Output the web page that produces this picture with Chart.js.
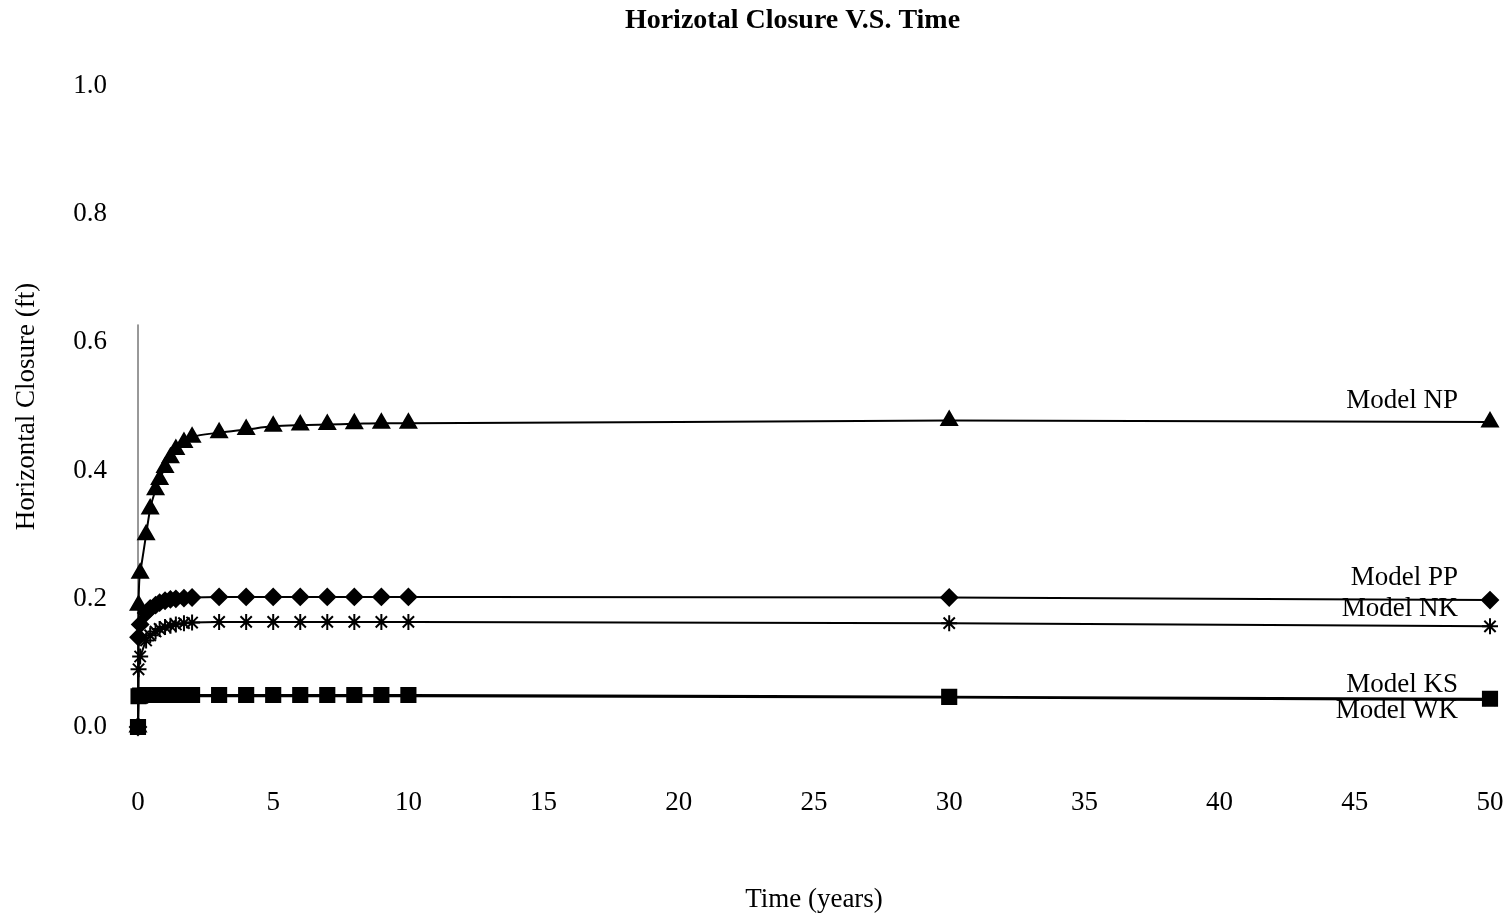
<!DOCTYPE html>
<html>
<head>
<meta charset="utf-8">
<script src="https://cdn.jsdelivr.net/npm/chart.js@4"></script>
<style>
  html, body { margin: 0; padding: 0; background: #fff; }
  #wrap { width: 1509px; height: 920px; }
</style>
</head>
<body>
<div id="wrap"><canvas id="c" width="1509" height="920"></canvas></div>
<script>
// ---- data ----
const times = [0, 0.02, 0.08, 0.3, 0.45, 0.65, 0.8, 1.0, 1.2, 1.4, 1.7, 2, 3, 4, 5, 6, 7, 8, 9, 10, 30, 50];
const modelNP = [0, 0.19, 0.24, 0.30, 0.34, 0.37, 0.386, 0.405, 0.42, 0.433, 0.444, 0.452, 0.459, 0.464, 0.469, 0.471, 0.472, 0.473, 0.474, 0.474, 0.478, 0.476];
const modelPP = [0, 0.14, 0.16, 0.178, 0.185, 0.19, 0.194, 0.197, 0.199, 0.200, 0.201, 0.202, 0.203, 0.203, 0.203, 0.203, 0.203, 0.203, 0.203, 0.203, 0.202, 0.198];
const modelNK = [0, 0.09, 0.11, 0.135, 0.143, 0.149, 0.153, 0.156, 0.158, 0.160, 0.162, 0.163, 0.164, 0.164, 0.164, 0.164, 0.164, 0.164, 0.164, 0.164, 0.162, 0.157];
const modelKS = [0, 0.048, 0.049, 0.050, 0.050, 0.050, 0.050, 0.050, 0.050, 0.050, 0.050, 0.050, 0.050, 0.050, 0.050, 0.050, 0.050, 0.050, 0.050, 0.050, 0.047, 0.044];
const modelWK = [0, 0.046, 0.047, 0.048, 0.048, 0.048, 0.048, 0.048, 0.048, 0.048, 0.048, 0.048, 0.048, 0.048, 0.048, 0.048, 0.048, 0.048, 0.048, 0.048, 0.046, 0.042];
const seriesNames = ['Model NP', 'Model PP', 'Model NK', 'Model KS', 'Model WK'];
const axisLineX = [0, 0];
const axisLineY = [0, 0.628];
const xTicks = [0, 5, 10, 15, 20, 25, 30, 35, 40, 45, 50];
const yTicks = [0.0, 0.2, 0.4, 0.6, 0.8, 1.0];
const chartTitle = 'Horizotal Closure V.S. Time';

// ---- styling ----
const SERIF = '"Liberation Serif", "Times New Roman", serif';
const FS = 27;
const labelOffsetsPx = [-21, -22, -17, -14, 11];
const markerStyles = [
  { pointStyle: 'triangle', radius: 9 },
  { pointStyle: 'rectRot', radius: 8 },
  { pointStyle: 'star', radius: 8 },
  { pointStyle: 'rect', radius: 10 },
  { pointStyle: 'crossRot', radius: 8 }
];
const allSeries = [modelNP, modelPP, modelNK, modelKS, modelWK];

const toXY = (xs, ys) => xs.map((x, i) => ({ x: x, y: ys[i] }));

const datasets = allSeries.map((vals, i) => ({
  label: seriesNames[i],
  data: toXY(times, vals),
  borderColor: '#000',
  backgroundColor: '#000',
  borderWidth: 2,
  pointStyle: markerStyles[i].pointStyle,
  pointRadius: markerStyles[i].radius,
  pointBorderWidth: 2,
  pointBackgroundColor: '#000',
  pointBorderColor: '#000',
  cubicInterpolationMode: 'monotone',
  clip: false,
  fill: false
}));
datasets.push({
  label: 'axis',
  data: toXY(axisLineX, axisLineY),
  borderColor: '#333',
  borderWidth: 1,
  pointRadius: 0,
  clip: false,
  fill: false
});

const textPlugin = {
  id: 'textPlugin',
  afterDatasetsDraw(chart) {
    const ctx = chart.ctx;
    const xs = chart.scales.x, ys = chart.scales.y;
    ctx.save();
    ctx.fillStyle = '#000';
    // chart title
    ctx.font = 'bold 28px ' + SERIF;
    ctx.textAlign = 'center';
    ctx.textBaseline = 'middle';
    ctx.fillText(chartTitle, chart.width / 2 + 38, 21);
    // series labels at the right end
    ctx.font = FS + 'px ' + SERIF;
    ctx.textAlign = 'right';
    allSeries.forEach((vals, i) => {
      const last = vals.length - 1;
      const px = xs.getPixelForValue(times[last]) - 32;
      const py = ys.getPixelForValue(vals[last]) + labelOffsetsPx[i];
      ctx.fillText(seriesNames[i], px, py);
    });
    ctx.restore();
  }
};

new Chart(document.getElementById('c'), {
  type: 'line',
  data: { datasets: datasets },
  plugins: [textPlugin],
  options: {
    responsive: false,
    animation: false,
    layout: { padding: { left: 0, right: 19, top: 86, bottom: 0 } },
    plugins: {
      legend: { display: false },
      tooltip: { enabled: false },
      title: { display: false }
    },
    scales: {
      x: {
        type: 'linear',
        min: 0, max: 50,
        afterBuildTicks(scale) { scale.ticks = xTicks.map(v => ({ value: v })); },
        afterFit(scale) { scale.height = 193; scale.paddingLeft = 12; scale.paddingRight = 12; },
        grid: { display: false, drawTicks: false, tickLength: 0 },
        border: { display: false },
        ticks: {
          color: '#000',
          font: { family: SERIF, size: FS },
          padding: 60,
          maxRotation: 0,
          callback: (v) => String(v)
        },
        title: {
          display: true,
          text: 'Time (years)',
          color: '#000',
          font: { family: SERIF, size: FS },
          padding: { top: 0, bottom: 4 }
        }
      },
      y: {
        type: 'linear',
        min: 0, max: 1,
        afterBuildTicks(scale) { scale.ticks = yTicks.map(v => ({ value: v })); },
        afterFit(scale) { scale.width = 138; scale.paddingTop = 0; },
        grid: { display: false, drawTicks: false, tickLength: 0 },
        border: { display: false },
        ticks: {
          color: '#000',
          font: { family: SERIF, size: FS },
          padding: 31,
          callback: (v) => Number(v).toFixed(1)
        },
        title: {
          display: true,
          text: 'Horizontal Closure (ft)',
          color: '#000',
          font: { family: SERIF, size: FS },
          padding: { top: 11, bottom: 0 }
        }
      }
    }
  }
});
</script>
</body>
</html>
